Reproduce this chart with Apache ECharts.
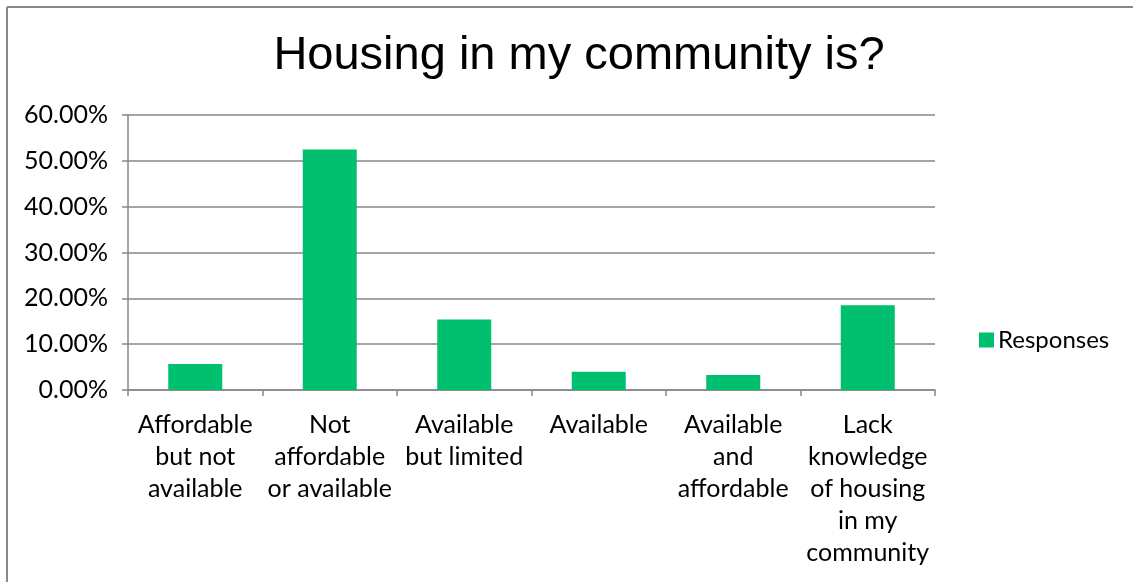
<!DOCTYPE html>
<html>
<head>
<meta charset="utf-8">
<script src="https://cdn.jsdelivr.net/npm/echarts@6/dist/echarts.min.js"></script>
<style>
html,body{margin:0;padding:0;background:#fff;}
#c{width:1133px;height:582px;}
</style>
</head>
<body>
<div id="c"></div>
<script>
const title = 'Housing in my community is?';
const categories = [
  'Affordable\nbut not\navailable',
  'Not\naffordable\nor available',
  'Available\nbut limited',
  'Available',
  'Available\nand\naffordable',
  'Lack\nknowledge\nof housing\nin my\ncommunity'
];
const seriesName = 'Responses';
const values = [5.7, 52.5, 15.4, 4.0, 3.3, 18.5];

const chart = echarts.init(document.getElementById('c'), null, {renderer: 'canvas'});
const lblFont = 'Lato, "Open Sans", sans-serif';
chart.setOption({
  animation: false,
  backgroundColor: '#fff',
  title: {
    text: title, left: 574, top: 28, textAlign: 'center',
    textStyle: {fontFamily: '"Liberation Sans", Arial, sans-serif', fontSize: 47, fontWeight: 'normal', color: '#000'}
  },
  legend: {
    data: [seriesName], left: 974, top: 323, orient: 'vertical',
    itemWidth: 15, itemHeight: 15, itemGap: 8,
    textStyle: {fontFamily: lblFont, fontSize: 24, color: '#000', padding: [0,0,0,-1]},
    icon: 'rect'
  },
  grid: {left: 128, right: 198, top: 115, bottom: 192, containLabel: false},
  xAxis: {
    type: 'category', data: categories,
    axisLine: {lineStyle: {color: '#868686', width: 1.5}},
    axisTick: {show: true, length: 6, alignWithLabel: false, lineStyle: {color: '#868686', width: 1.5}},
    axisLabel: {fontFamily: lblFont, fontSize: 25, color: '#000', lineHeight: 32, margin: 19, interval: 0}
  },
  yAxis: {
    type: 'value', min: 0, max: 60, interval: 10,
    axisLine: {show: true, lineStyle: {color: '#868686', width: 1.5}},
    axisTick: {show: true, length: 6, lineStyle: {color: '#868686', width: 1.5}},
    splitLine: {lineStyle: {color: '#868686', width: 1.5}},
    axisLabel: {fontFamily: lblFont, fontSize: 25, color: '#000', margin: 20,
      formatter: v => v.toFixed(2) + '%'}
  },
  series: [{
    name: seriesName, type: 'bar', data: values, barWidth: 54,
    itemStyle: {color: '#00BF6F'}
  }],
  graphic: [
    {type: 'line', shape: {x1: 7, y1: 7, x2: 1133, y2: 7}, style: {stroke: '#888', lineWidth: 2}},
    {type: 'line', shape: {x1: 7, y1: 7, x2: 7, y2: 582}, style: {stroke: '#888', lineWidth: 2}}
  ]
});
</script>
</body>
</html>
